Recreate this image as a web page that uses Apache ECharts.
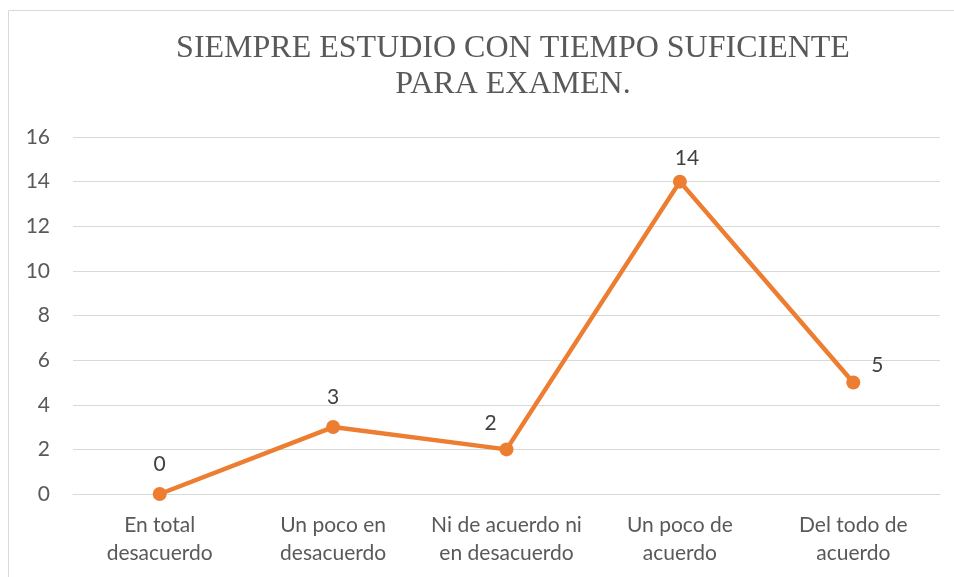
<!DOCTYPE html>
<html>
<head>
<meta charset="utf-8">
<script src="https://cdn.jsdelivr.net/npm/echarts@6/dist/echarts.min.js"></script>
<style>
  html, body { margin: 0; padding: 0; background: #fff; }
  #chart { width: 954px; height: 577px; }
</style>
</head>
<body>
<div id="chart"></div>
<script>
// categorias y valores
var categories = ['En total\ndesacuerdo', 'Un poco en\ndesacuerdo', 'Ni de acuerdo ni\nen desacuerdo', 'Un poco de\nacuerdo', 'Del todo de\nacuerdo'];
var values = [0, 3, 2, 14, 5];
var yTicks = [0, 2, 4, 6, 8, 10, 12, 14, 16];

var myChart = echarts.init(document.getElementById('chart'));

// desplazamiento de cada etiqueta (como en el original)
var labelOffsets = [[0, 0], [0, 0], [-16, 3], [7, 6], [24, 12]];

var option = {
  animation: false,
  title: {
    text: 'SIEMPRE ESTUDIO CON TIEMPO SUFICIENTE\nPARA EXAMEN.',
    left: 508,
    textAlign: 'center',
    top: 26,
    textStyle: {
      fontFamily: 'Liberation Serif',
      fontWeight: 'normal',
      fontSize: 32,
      lineHeight: 36,
      color: '#595959'
    }
  },
  graphic: [{
    type: 'rect',
    shape: { x: 8.5, y: 10.5, width: 1000, height: 1000 },
    style: { fill: 'none', stroke: '#d9d9d9', lineWidth: 1 },
    silent: true
  }],
  grid: { left: 73, right: 14, top: 137, bottom: 83 },
  xAxis: {
    type: 'category',
    data: categories,
    axisTick: { show: false },
    axisLine: { lineStyle: { color: '#d9d9d9', width: 1 } },
    axisLabel: {
      interval: 0,
      hideOverlap: false,
      color: '#595959',
      fontFamily: 'Lato',
      fontSize: 21,
      lineHeight: 28,
      margin: 17
    }
  },
  yAxis: {
    type: 'value',
    min: yTicks[0],
    max: yTicks[yTicks.length - 1],
    interval: 2,
    axisLine: { show: false },
    axisTick: { show: false },
    splitLine: { lineStyle: { color: '#d9d9d9', width: 1 } },
    axisLabel: {
      color: '#595959',
      fontFamily: 'Lato',
      fontSize: 21,
      margin: 23
    }
  },
  series: [{
    type: 'line',
    data: values.map(function (v, i) {
      return { value: v, label: { offset: labelOffsets[i] } };
    }),
    symbol: 'circle',
    symbolSize: 14,
    lineStyle: { color: '#ED7D31', width: 4.5 },
    itemStyle: { color: '#ED7D31' },
    label: {
      show: true,
      position: 'top',
      distance: 12,
      color: '#404040',
      fontFamily: 'Lato',
      fontSize: 21
    }
  }]
};

myChart.setOption(option);
</script>
</body>
</html>
